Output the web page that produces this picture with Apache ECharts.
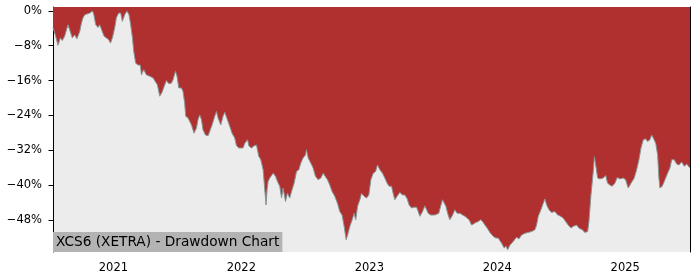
<!DOCTYPE html>
<html>
<head>
<meta charset="utf-8">
<script src="https://cdn.jsdelivr.net/npm/echarts@6/dist/echarts.min.js"></script>
<style>
html,body{margin:0;padding:0;background:#fff;}
#chart{width:700px;height:280px;}
</style>
</head>
<body>
<div id="chart"></div>
<script>
// Time in decimal years
var years = [
2020.528,2020.549,2020.567,2020.586,2020.601,2020.619,2020.645,2020.658,2020.679,2020.697,
2020.715,2020.737,2020.750,2020.762,2020.776,2020.789,2020.815,2020.836,2020.846,2020.862,
2020.880,2020.893,2020.914,2020.927,2020.945,2020.963,2020.977,2020.992,2021.010,2021.023,
2021.041,2021.057,2021.070,2021.088,2021.106,2021.122,2021.135,2021.149,2021.159,2021.174,
2021.192,2021.211,2021.219,2021.237,2021.258,2021.284,2021.310,2021.323,2021.344,2021.362,
2021.380,2021.401,2021.414,2021.432,2021.453,2021.466,2021.485,2021.497,2021.511,2021.532,
2021.544,2021.557,2021.565,2021.583,2021.597,2021.610,2021.630,2021.649,2021.661,2021.675,
2021.688,2021.700,2021.719,2021.740,2021.753,2021.771,2021.792,2021.805,2021.818,2021.839,
2021.857,2021.870,2021.891,2021.909,2021.927,2021.948,2021.962,2021.980,2021.995,2022.013,
2022.027,2022.048,2022.060,2022.079,2022.099,2022.118,2022.136,2022.152,2022.170,2022.183,
2022.193,2022.201,2022.209,2022.222,2022.248,2022.267,2022.282,2022.300,2022.314,2022.326,
2022.345,2022.360,2022.378,2022.392,2022.412,2022.431,2022.449,2022.464,2022.482,2022.501,
2022.509,2022.522,2022.543,2022.561,2022.579,2022.600,2022.621,2022.639,2022.652,2022.673,
2022.691,2022.709,2022.730,2022.751,2022.769,2022.787,2022.803,2022.819,2022.830,2022.848,
2022.866,2022.881,2022.894,2022.908,2022.926,2022.939,2022.959,2022.978,2022.996,2023.012,
2023.030,2023.049,2023.064,2023.082,2023.103,2023.121,2023.139,2023.155,2023.174,2023.186,
2023.199,2023.217,2023.238,2023.260,2023.278,2023.296,2023.311,2023.330,2023.348,2023.369,
2023.382,2023.395,2023.416,2023.434,2023.447,2023.460,2023.479,2023.494,2023.512,2023.525,
2023.543,2023.557,2023.572,2023.585,2023.598,2023.616,2023.629,2023.651,2023.668,2023.686,
2023.708,2023.729,2023.747,2023.760,2023.780,2023.799,2023.817,2023.833,2023.851,2023.869,
2023.885,2023.903,2023.921,2023.942,2023.968,2023.989,2024.007,2024.034,2024.054,2024.067,
2024.081,2024.099,2024.124,2024.151,2024.169,2024.190,2024.216,2024.242,2024.268,2024.294,
2024.307,2024.320,2024.341,2024.359,2024.372,2024.386,2024.404,2024.425,2024.450,2024.472,
2024.490,2024.515,2024.534,2024.554,2024.576,2024.594,2024.620,2024.638,2024.664,2024.685,
2024.706,2024.716,2024.732,2024.750,2024.759,2024.769,2024.784,2024.802,2024.828,2024.847,
2024.862,2024.880,2024.898,2024.919,2024.937,2024.959,2024.984,2025.003,2025.023,2025.045,
2025.070,2025.089,2025.107,2025.123,2025.141,2025.159,2025.175,2025.193,2025.206,2025.219,
2025.238,2025.253,2025.263,2025.271,2025.289,2025.310,2025.331,2025.349,2025.363,2025.383,
2025.402,2025.420,2025.441,2025.461,2025.480,2025.506
];
// Drawdown in percent
var drawdown = [
-3.8,-5.8,-7.9,-6.2,-6.8,-5.8,-3.2,-4.3,-6.2,-5.5,
-6.4,-4.7,-2.8,-1.6,-0.9,-0.5,-0.5,0,-0.7,-3.2,
-3.8,-3.2,-4.8,-5.8,-6.2,-6.6,-7.4,-6.2,-3.9,-1.6,
-0.5,-0.5,-2.4,-0.9,0,-0.9,-3.2,-6.2,-9.3,-12.0,
-12.4,-12.5,-14.7,-13.5,-14.7,-15.0,-15.4,-15.8,-17.0,-19.6,
-18.7,-17.0,-16.0,-16.7,-16.6,-15.8,-13.9,-15.0,-17.7,-17.7,
-18.5,-21.2,-24.2,-24.6,-24.4,-26.2,-28.1,-26.9,-25.0,-23.9,
-25.0,-27.3,-28.5,-28.7,-29.0,-26.2,-24.2,-23.1,-24.6,-26.2,
-24.2,-23.3,-25.0,-26.5,-28.1,-29.2,-31.0,-31.5,-31.9,-31.5,
-30.4,-29.6,-31.1,-31.5,-31.0,-30.8,-33.4,-34.2,-36.5,-41.1,
-44.6,-41.1,-39.2,-38.4,-37.3,-38.0,-39.2,-40.3,-43.0,-40.7,
-43.8,-41.9,-43.0,-41.5,-39.6,-36.9,-36.5,-35.0,-33.8,-33.1,
-31.9,-33.8,-35.0,-36.1,-38.0,-38.8,-38.4,-37.3,-37.3,-38.8,
-40.0,-41.5,-42.6,-44.2,-46.1,-46.9,-49.5,-52.6,-51.5,-49.5,
-48.0,-46.5,-48.0,-44.9,-43.4,-41.9,-42.6,-43.0,-42.3,-38.8,
-37.3,-36.9,-35.4,-36.5,-37.3,-38.4,-39.6,-40.3,-40.3,-41.9,
-43.4,-42.6,-41.7,-42.3,-42.3,-43.2,-44.6,-45.3,-45.1,-45.1,
-46.1,-47.2,-46.1,-44.8,-44.9,-46.5,-46.9,-46.5,-46.9,-46.9,
-46.5,-44.9,-43.4,-43.8,-44.9,-46.9,-48.0,-46.9,-45.7,-46.5,
-46.5,-46.9,-47.2,-46.9,-48.0,-49.2,-48.9,-48.6,-48.4,-48.0,
-48.4,-49.2,-49.9,-50.9,-51.8,-52.2,-52.2,-53.4,-54.5,-54.0,
-54.9,-53.8,-53.0,-52.0,-52.4,-51.5,-51.1,-50.9,-50.7,-50.3,
-49.2,-47.2,-45.7,-44.2,-43.2,-44.6,-45.7,-46.3,-46.1,-46.9,
-47.1,-47.6,-48.4,-49.2,-49.9,-49.5,-49.2,-49.9,-50.3,-50.9,
-50.7,-48.5,-42.3,-36.9,-33.5,-35.4,-38.4,-38.6,-38.4,-37.8,
-39.6,-40.0,-40.3,-39.6,-38.3,-38.6,-38.4,-38.8,-40.7,-39.6,
-38.4,-36.5,-34.2,-31.5,-29.6,-29.4,-30.0,-29.6,-28.5,-29.2,
-30.4,-33.1,-38.4,-40.7,-40.3,-38.8,-37.3,-36.1,-34.2,-34.2,
-35.2,-35.4,-34.7,-35.7,-35.2,-36.1
];
var xTicks = [2021, 2022, 2023, 2024, 2025];
var yTicks = [0, -8, -16, -24, -32, -40, -48];
var chartTitle = 'XCS6 (XETRA) - Drawdown Chart';

var data = years.map(function (y, i) { return [y, drawdown[i]]; });
var font = 'DejaVu Sans';
var chart = echarts.init(document.getElementById('chart'), null, {renderer: 'canvas'});
chart.setOption({
  animation: false,
  title: {
    text: chartTitle,
    left: 53, top: 232,
    padding: [3, 3, 2, 3],
    backgroundColor: '#b3b3b3',
    textStyle: {fontFamily: font, fontSize: 13.7, fontWeight: 'normal', color: '#000', lineHeight: 15},
    z: 10
  },
  grid: {left: 53, right: 10, top: 7, bottom: 28, show: true, backgroundColor: '#ececec', borderWidth: 0},
  xAxis: [{
    type: 'value', min: 2020.528, max: 2025.506,
    axisLine: {show: true, lineStyle: {color: '#000', width: 1}},
    axisTick: {show: true, length: 4.5, customValues: xTicks, lineStyle: {color: '#000'}},
    axisLabel: {customValues: xTicks, margin: 10, fontFamily: font, fontSize: 11.5, color: '#000',
      formatter: function (v) { return String(Math.round(v)); }},
    splitLine: {show: false}
  }, {
    type: 'value', min: 2020.528, max: 2025.506, position: 'top',
    axisLine: {show: true, lineStyle: {color: '#000', width: 1}},
    axisTick: {show: false}, axisLabel: {show: false}, splitLine: {show: false}
  }],
  yAxis: [{
    type: 'value', min: -55.4, max: 0.9,
    axisLine: {show: true, lineStyle: {color: '#000', width: 1}},
    axisTick: {show: true, length: 4.5, customValues: yTicks, lineStyle: {color: '#000'}},
    axisLabel: {customValues: yTicks, margin: 11, fontFamily: font, fontSize: 11.5, color: '#000',
      formatter: function (v) { var r = Math.round(v); return (r < 0 ? '\u2212' : '') + Math.abs(r) + '%'; }},
    splitLine: {show: false}
  }, {
    type: 'value', min: -55.4, max: 0.9, position: 'right',
    axisLine: {show: true, lineStyle: {color: '#000', width: 1}},
    axisTick: {show: false}, axisLabel: {show: false}, splitLine: {show: false}
  }],
  series: [{
    type: 'line',
    data: data,
    showSymbol: false,
    symbol: 'none',
    lineStyle: {color: '#8a9494', width: 1},
    areaStyle: {color: '#b03030', opacity: 1, origin: 'end'},
    z: 2
  }]
});
</script>
</body>
</html>
